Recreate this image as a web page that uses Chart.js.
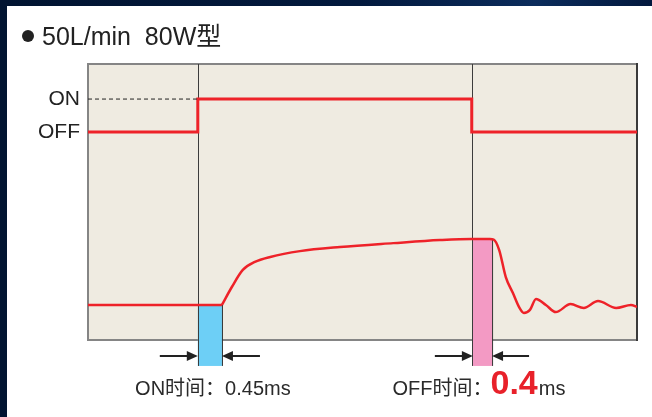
<!DOCTYPE html>
<html>
<head>
<meta charset="utf-8">
<script src="https://cdn.jsdelivr.net/npm/chart.js@4.4.1/dist/chart.umd.min.js"></script>
<style>
html, body { margin: 0; padding: 0; }
body { width: 652px; height: 417px; position: relative; overflow: hidden;
  background: linear-gradient(90deg, #011431 0%, #02193d 55%, #0b2c5c 82%, #02183d 100%); }
#panel { position: absolute; left: 7px; top: 6px; right: 0; bottom: 0; background: #fff; }
canvas { position: absolute; left: 0; top: 0; }
</style>
</head>
<body>
<div id="panel"></div>
<canvas id="respChart" width="652" height="417"></canvas>
<script>
// chart values (time in arbitrary units 0-100, level 0-100)
var titleText = '50L/min  80W型';
var stateLabels = ['OFF', 'ON'];
var stateLevels = [75.4, 87.3];
var signalX = [0, 20, 20, 69.9, 69.9, 100];
var signalY = [75.4, 75.4, 87.3, 87.3, 75.4, 75.4];
var baseX = [0, 24.4];
var baseY = [12.7, 12.7];
var responseX = [24.4, 26.2, 28.2, 30.4, 33.2, 38.6, 45.9, 55.6, 64.1, 69.9, 73.2, 73.9, 74.9, 76.1, 77.4, 78.5, 79.4, 80.5, 81.6, 83.4, 85.2, 87.9, 90.3, 92.9, 96.2, 98.9, 100];
var responseY = [12.7, 19.2, 25.4, 28.3, 30.1, 32.2, 33.7, 35.1, 36.2, 36.6, 36.6, 36.4, 32.6, 22.8, 17.0, 12.0, 9.8, 10.9, 14.9, 12.7, 10.1, 13.0, 11.6, 14.1, 11.6, 12.7, 12.0];
var onSpan = [20, 24.4];
var onTop = 12.7;
var offSpan = [70.1, 73.6];
var offTop = 36.6;
var onLabel = 'ON时间：0.45ms';
var offLabel = ['OFF时间：', '0.4', 'ms'];

var markBottom = -9.4;
var arrowLevel = -5.8;
var textFont = "'Liberation Sans', Arial, 'Noto Sans CJK SC', sans-serif";

function pts(xs, ys) {
  return xs.map(function (x, i) { return { x: x, y: ys[i] }; });
}

function arrow(ctx, x1, x2, y) {
  // line from x1 to x2 with head at x2
  var dir = x2 > x1 ? 1 : -1;
  ctx.beginPath();
  ctx.moveTo(x1, y);
  ctx.lineTo(x2 - dir * 8, y);
  ctx.stroke();
  ctx.beginPath();
  ctx.moveTo(x2, y);
  ctx.lineTo(x2 - dir * 11, y - 5);
  ctx.lineTo(x2 - dir * 11, y + 5);
  ctx.closePath();
  ctx.fill();
}

var decor = {
  id: 'decor',
  beforeDatasetsDraw: function (chart) {
    var ctx = chart.ctx, ca = chart.chartArea;
    var xs = chart.scales.x, ys = chart.scales.y;
    ctx.save();
    ctx.fillStyle = '#efebe1';
    ctx.fillRect(ca.left, ca.top, ca.right - ca.left, ca.bottom - ca.top);
    ctx.lineWidth = 2;
    ctx.strokeStyle = '#858585';
    ctx.beginPath();
    ctx.moveTo(ca.right, ca.top); ctx.lineTo(ca.left, ca.top);
    ctx.lineTo(ca.left, ca.bottom); ctx.lineTo(ca.right, ca.bottom);
    ctx.stroke();
    ctx.strokeStyle = '#3a3a3a';
    ctx.beginPath();
    ctx.moveTo(ca.right, ca.top - 1); ctx.lineTo(ca.right, ca.bottom + 1);
    ctx.stroke();

    var bottom = ys.getPixelForValue(markBottom);
    [[onSpan, onTop, '#6dcff6'], [offSpan, offTop, '#f39ac4']].forEach(function (b) {
      var l = xs.getPixelForValue(b[0][0]), r = xs.getPixelForValue(b[0][1]);
      var t = ys.getPixelForValue(b[1]);
      ctx.fillStyle = b[2];
      ctx.fillRect(l, t, r - l, bottom - t);
      ctx.strokeStyle = '#333';
      ctx.lineWidth = 1;
      ctx.beginPath();
      ctx.moveTo(r + 0.5, t); ctx.lineTo(r + 0.5, bottom);
      ctx.stroke();
    });
    // thin guides at signal edges
    ctx.strokeStyle = '#3c3c3c';
    ctx.lineWidth = 1;
    [signalX[1], signalX[3]].forEach(function (v) {
      var px = Math.round(xs.getPixelForValue(v)) + 0.5;
      ctx.beginPath();
      ctx.moveTo(px, ca.top);
      ctx.lineTo(px, bottom);
      ctx.stroke();
    });
    ctx.restore();
  },
  afterDraw: function (chart) {
    var ctx = chart.ctx;
    var xs = chart.scales.x, ys = chart.scales.y;
    ctx.save();
    // title
    ctx.fillStyle = '#222';
    ctx.beginPath();
    ctx.arc(28, 36, 6, 0, Math.PI * 2);
    ctx.fill();
    ctx.font = '25px ' + textFont;
    ctx.textBaseline = 'alphabetic';
    ctx.fillText(titleText, 42, 45);

    // arrows
    var ay = ys.getPixelForValue(arrowLevel);
    ctx.strokeStyle = '#222';
    ctx.fillStyle = '#222';
    ctx.lineWidth = 2;
    arrow(ctx, xs.getPixelForValue(onSpan[0]) - 38, xs.getPixelForValue(onSpan[0]), ay);
    arrow(ctx, xs.getPixelForValue(onSpan[1]) + 38, xs.getPixelForValue(onSpan[1]), ay);
    arrow(ctx, xs.getPixelForValue(offSpan[0]) - 38, xs.getPixelForValue(offSpan[0]), ay);
    arrow(ctx, xs.getPixelForValue(offSpan[1]) + 37, xs.getPixelForValue(offSpan[1]), ay);

    // labels under the bars
    var base = 395;
    ctx.fillStyle = '#2a2a2a';
    ctx.font = '20px ' + textFont;
    ctx.textAlign = 'center';
    ctx.fillText(onLabel, (xs.getPixelForValue(onSpan[0]) + xs.getPixelForValue(onSpan[1])) / 2 + 3, base);

    ctx.textAlign = 'left';
    var small = '20px ' + textFont, big = 'bold 34px ' + textFont;
    ctx.font = small; var w1 = ctx.measureText(offLabel[0]).width;
    ctx.font = big; var w2 = ctx.measureText(offLabel[1]).width;
    ctx.font = small; var w3 = ctx.measureText(offLabel[2]).width;
    var cx = (xs.getPixelForValue(offSpan[0]) + xs.getPixelForValue(offSpan[1])) / 2 - 3;
    var x0 = cx - (w1 + w2 + w3) / 2;
    ctx.font = small; ctx.fillStyle = '#2a2a2a';
    ctx.fillText(offLabel[0], x0, base);
    ctx.font = big; ctx.fillStyle = '#e8212a';
    ctx.fillText(offLabel[1], x0 + w1 - 2, base - 1);
    ctx.font = small; ctx.fillStyle = '#2a2a2a';
    ctx.fillText(offLabel[2], x0 + w1 + w2 - 1, base);
    ctx.restore();
  }
};

var red = '#ee2229';
var ctx = document.getElementById('respChart').getContext('2d');
var respChart = new Chart(ctx, {
  type: 'line',
  data: {
    datasets: [
      { data: pts([signalX[0], signalX[1]], [stateLevels[1], stateLevels[1]]),
        borderColor: '#222', borderWidth: 1, borderDash: [4, 3], pointRadius: 0 },
      { data: pts(signalX, signalY), borderColor: red, borderWidth: 3, pointRadius: 0, tension: 0 },
      { data: pts(baseX, baseY), borderColor: red, borderWidth: 2.5, pointRadius: 0, tension: 0 },
      { data: pts(responseX, responseY), borderColor: red, borderWidth: 2.5, pointRadius: 0,
        cubicInterpolationMode: 'monotone' }
    ]
  },
  options: {
    responsive: false,
    animation: false,
    layout: { padding: { top: 64, right: 15, bottom: 77, left: 0 } },
    plugins: {
      legend: { display: false },
      tooltip: { enabled: false }
    },
    scales: {
      x: { type: 'linear', min: 0, max: 100, display: false },
      y: {
        min: 0, max: 100,
        grid: { display: false, drawTicks: false },
        border: { display: false },
        afterFit: function (s) { s.width = 88; },
        afterBuildTicks: function (s) {
          s.ticks = stateLevels.map(function (v) { return { value: v }; });
        },
        ticks: {
          padding: 8,
          color: '#222',
          font: { family: textFont, size: 21 },
          callback: function (v) { return stateLabels[stateLevels.indexOf(v)]; }
        }
      }
    }
  },
  plugins: [decor]
});
</script>
</body>
</html>
